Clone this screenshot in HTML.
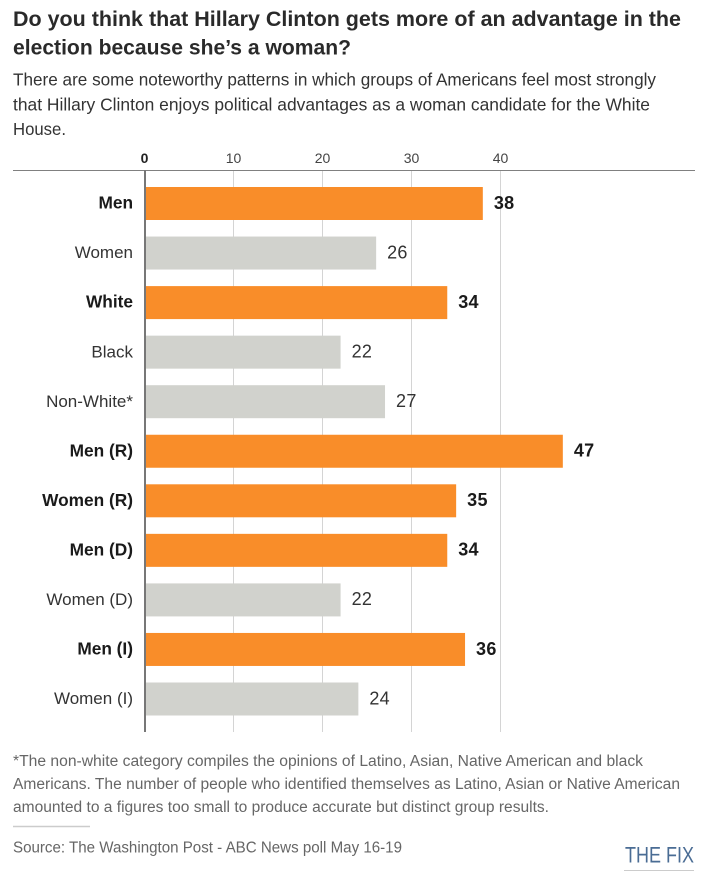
<!DOCTYPE html>
<html lang="en">
<head>
<meta charset="utf-8">
<title>Hillary Clinton advantage chart</title>
<style>
html,body{margin:0;padding:0;background:#fff;width:707px;height:880px;overflow:hidden}
svg{display:block;font-family:"Liberation Sans",sans-serif}
</style>
</head>
<body>
<svg id="chart" width="707" height="880" viewBox="0 0 707 880" xmlns="http://www.w3.org/2000/svg">
  <text x="13" y="26" font-size="21.5" font-weight="700" fill="#2a2a2a" textLength="668" lengthAdjust="spacingAndGlyphs">Do you think that Hillary Clinton gets more of an advantage in the</text>
  <text x="13" y="54.7" font-size="21.5" font-weight="700" fill="#2a2a2a" textLength="338" lengthAdjust="spacingAndGlyphs">election because she’s a woman?</text>
  <text x="13" y="85.7" font-size="17.5" fill="#333" textLength="643" lengthAdjust="spacingAndGlyphs">There are some noteworthy patterns in which groups of Americans feel most strongly</text>
  <text x="13" y="110.4" font-size="17.5" fill="#333" textLength="637" lengthAdjust="spacingAndGlyphs">that Hillary Clinton enjoys political advantages as a woman candidate for the White</text>
  <text x="13" y="135" font-size="17.5" fill="#333" textLength="53" lengthAdjust="spacingAndGlyphs">House.</text>
  <g id="grid"></g>
  <line x1="13" x2="695" y1="170.5" y2="170.5" stroke="#808080" stroke-width="1"></line>
  <g id="bars"></g>
  <line x1="145" x2="145" y1="170" y2="732" stroke="#777" stroke-width="2"></line>
  <text x="13" y="766" font-size="15.5" fill="#666" textLength="630" lengthAdjust="spacingAndGlyphs">*The non-white category compiles the opinions of Latino, Asian, Native American and black</text>
  <text x="13" y="789" font-size="15.5" fill="#666" textLength="667" lengthAdjust="spacingAndGlyphs">Americans. The number of people who identified themselves as Latino, Asian or Native American</text>
  <text x="13" y="812" font-size="15.5" fill="#666" textLength="536" lengthAdjust="spacingAndGlyphs">amounted to a figures too small to produce accurate but distinct group results.</text>
  <line x1="13" x2="90" y1="826.5" y2="826.5" stroke="#ccc" stroke-width="1.5"></line>
  <text x="13" y="852.7" font-size="15.5" fill="#666" textLength="389" lengthAdjust="spacingAndGlyphs">Source: The Washington Post - ABC News poll May 16-19</text>
  <text x="625" y="862.7" font-size="22" fill="#4a6c94" textLength="69" lengthAdjust="spacingAndGlyphs">THE FIX</text>
  <line x1="624" x2="694" y1="870.5" y2="870.5" stroke="#ccc" stroke-width="1"></line>
</svg>
<script>
const categories = ["Men","Women","White","Black","Non-White*","Men (R)","Women (R)","Men (D)","Women (D)","Men (I)","Women (I)"];
const values = [38,26,34,22,27,47,35,34,22,36,24];
const highlighted = [true,false,true,false,false,true,true,true,false,true,false];
const tickValues = [0,10,20,30,40];

const NS = "http://www.w3.org/2000/svg";
const X0 = 145, PER_UNIT = 8.89, ROW0 = 187, ROW_STEP = 49.55, BAR_H = 33;
const xScale = function (v) { return X0 + v * PER_UNIT; };
const yScale = function (i) { return ROW0 + i * ROW_STEP; };

function make(tag, attrs, parent, txt) {
  const el = document.createElementNS(NS, tag);
  for (const k in attrs) el.setAttribute(k, attrs[k]);
  if (txt !== undefined) el.textContent = txt;
  parent.appendChild(el);
  return el;
}

const gridG = document.getElementById("grid");
const barsG = document.getElementById("bars");

tickValues.forEach(function (t) {
  const x = Math.floor(xScale(t)) + 0.5;
  if (t !== 0) {
    const gl = make("line", {x1: x, x2: x, y1: 170, y2: 732, stroke: "#d4d4d4", "stroke-width": 1}, gridG);
    
    
  }
  const lab = make("text", {x: t === 0 ? x - 1 : x, y: 163, "font-size": 14, "text-anchor": "middle", fill: t === 0 ? "#222" : "#444", "font-weight": t === 0 ? 700 : 400}, gridG, String(t));
  
  
});

categories.forEach(function (c, i) {
  const y = yScale(i);
  const hi = highlighted[i];
  const bar = make("rect", {x: X0, y: y, width: xScale(values[i]) - X0, height: BAR_H, fill: hi ? "#f98d29" : "#d1d2cd"}, barsG);
  
  
  const lab = make("text", {x: 133, y: y + 21.6, "font-size": hi ? 17.3 : 17, "text-anchor": "end", fill: hi ? "#1a1a1a" : "#333", "font-weight": hi ? 700 : 400}, barsG, c);
  
  
  const val = make("text", {x: xScale(values[i]) + 11, y: y + 21.8, "font-size": 18, "letter-spacing": 0.3, fill: hi ? "#1a1a1a" : "#333", "font-weight": hi ? 700 : 400}, barsG, String(values[i]));
  
  
});
</script>
</body>
</html>
